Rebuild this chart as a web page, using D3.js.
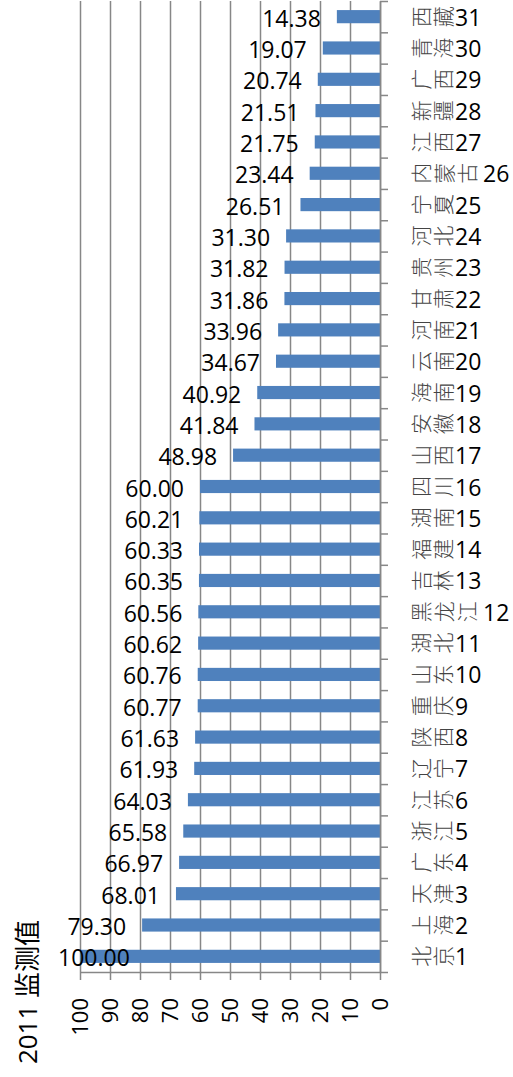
<!DOCTYPE html>
<html>
<head>
<meta charset="utf-8">
<script src="https://cdn.jsdelivr.net/npm/d3@7"></script>
<style>
  body { margin: 0; background: #fff; }
  svg { display: block; }
  text { font-family: "Open Sans", "Noto Sans CJK SC", sans-serif; fill: #000; }
</style>
</head>
<body>
<svg id="chart" width="513" height="1077"></svg>
<script>
// provinces, rank 1 at the bottom
var provinces = ["北京","上海","天津","广东","浙江","江苏","辽宁","陕西","重庆","山东",
                 "湖北","黑龙江","吉林","福建","湖南","四川","山西","安徽","海南","云南",
                 "河南","甘肃","贵州","河北","宁夏","内蒙古","江西","新疆","广西","青海","西藏"];
var values = [100.00,79.30,68.01,66.97,65.58,64.03,61.93,61.63,60.77,60.76,
              60.62,60.56,60.35,60.33,60.21,60.00,48.98,41.84,40.92,34.67,
              33.96,31.86,31.82,31.30,26.51,23.44,21.75,21.51,20.74,19.07,14.38];
var valueTicks = [0,10,20,30,40,50,60,70,80,90,100];
var axisTitle = "2011 监测值";

var svg = d3.select("#chart");
var plot = {left: 80, right: 380, top: 1, bottom: 972};

var data = provinces.map(function(p, i) { return {name: p, rank: i + 1, value: values[i]}; });

var x = d3.scaleLinear().domain([0, 100]).range([plot.right, plot.left]);
var y = d3.scaleBand().domain(data.map(function(d) { return d.rank; }))
    .range([plot.bottom, plot.top]).paddingInner(0.58).paddingOuter(0.29);
var yEdge = d3.scaleLinear().domain([0, data.length]).range([plot.bottom, plot.top]);

// gridlines
svg.append("g")
    .attr("class", "grid")
    .attr("transform", "translate(0," + plot.bottom + ")")
    .call(d3.axisBottom(x).tickValues(valueTicks).tickSize(-(plot.bottom - plot.top)).tickFormat(""))
    .call(function(g) { g.select(".domain").remove(); })
    .selectAll("line").attr("stroke", "#878787").attr("stroke-width", 1.5);

// bars
svg.selectAll(".bar")
    .data(data)
  .enter().append("rect")
    .attr("class", "bar")
    .attr("x", function(d) { return x(d.value); })
    .attr("y", function(d) { return y(d.rank); })
    .attr("width", function(d) { return x(0) - x(d.value); })
    .attr("height", y.bandwidth())
    .attr("fill", "#4f81bd");

// value axis
var xAxis = svg.append("g")
    .attr("transform", "translate(0," + plot.bottom + ")")
    .call(d3.axisBottom(x).tickValues(valueTicks).tickSize(8).tickSizeOuter(0));
xAxis.select(".domain").attr("stroke", "#878787").attr("stroke-width", 1.5);
xAxis.selectAll("line").attr("stroke", "#878787").attr("stroke-width", 1.5);
xAxis.selectAll("text")
    .attr("y", 0).attr("x", -26).attr("dy", "0.36em")
    .attr("transform", "rotate(-90)")
    .style("text-anchor", "end")
    .style("font-size", "22px")
    .attr("fill", "#000");

// category axis on the right
var yAxis = svg.append("g")
    .attr("transform", "translate(" + plot.right + ",0)")
    .call(d3.axisRight(yEdge).tickValues(d3.range(data.length + 1)).tickSize(8).tickSizeOuter(0).tickFormat(""));
yAxis.select(".domain").attr("stroke", "#878787").attr("stroke-width", 1.5);
yAxis.selectAll("line").attr("stroke", "#878787").attr("stroke-width", 1.5);

// data labels
svg.selectAll(".val")
    .data(data)
  .enter().append("text")
    .attr("class", "val")
    .style("font-size", "23px")
    .attr("y", function(d) { return y(d.rank) + y.bandwidth() / 2 + 10; })
    .text(function(d) { return d.value.toFixed(2); })
    .each(function(d) {
        var t = d3.select(this);
        var w = this.getComputedTextLength();
        var xr = x(d.value) - 16;
        if (xr - w < 58) t.attr("x", 58).attr("text-anchor", "start");
        else t.attr("x", xr).attr("text-anchor", "end");
    });

// category labels: CJK glyphs turned, numbers upright
var cat = svg.selectAll(".cat")
    .data(data)
  .enter().append("g")
    .attr("class", "cat")
    .attr("transform", function(d) { return "translate(410," + (y(d.rank) + y.bandwidth() / 2) + ")"; });

cat.each(function(d) {
    var g = d3.select(this);
    var chars = d.name.split("");
    var step = chars.length > 2 ? 23 : 22;
    chars.forEach(function(c, i) {
        var cx = 11 + i * step;
        g.append("text")
            .attr("x", cx).attr("y", 0)
            .attr("text-anchor", "middle")
            .attr("dominant-baseline", "central")
            .attr("transform", "rotate(-90," + cx + ",0)")
            .style("font-size", "21px")
            .style("font-weight", 300)
            .style("fill", "#444")
            .text(c);
    });
    g.append("text")
        .attr("x", chars.length * step + (chars.length > 2 ? 4 : 1))
        .attr("y", 9)
        .style("font-size", "23px")
        .text(d.rank);
});

// axis title
svg.append("text")
    .attr("transform", "translate(28,992) rotate(-90)")
    .attr("text-anchor", "middle")
    .attr("dy", "0.36em")
    .style("font-size", "26px")
    .text(axisTitle);
</script>
</body>
</html>
